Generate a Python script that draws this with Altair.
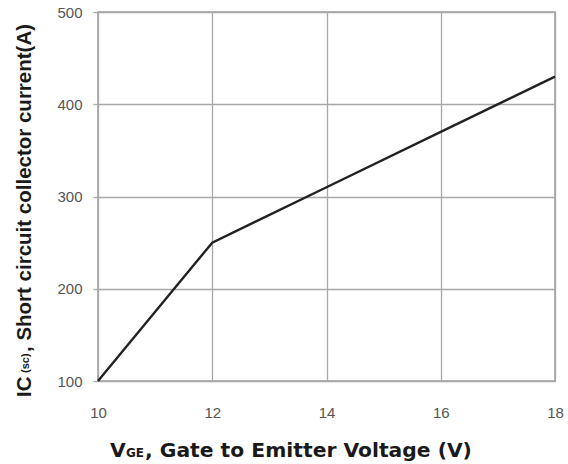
import altair as alt
import pandas as pd

# Gate-emitter voltage (V) and short-circuit collector current (A)
vge = [10, 12, 14, 16, 18]
ic_sc = [100, 250, 310, 370, 430]

x_ticks = [10, 12, 14, 16, 18]
y_ticks = [100, 200, 300, 400, 500]

df = pd.DataFrame({"vge": vge, "ic": ic_sc})
one = pd.DataFrame({"k": [0]})

W, H = 457, 369
TICK_FONT = "Liberation Sans, Arial, sans-serif"
X_TITLE_FONT = "DejaVu Sans, Verdana, sans-serif"
Y_TITLE_FONT = "Liberation Sans, Arial, sans-serif"

line = alt.Chart(df).mark_line(color="#222222", strokeWidth=2.4).encode(
    x=alt.X("vge:Q",
            scale=alt.Scale(domain=[10, 18], nice=False, zero=False),
            axis=alt.Axis(values=x_ticks, title=None, labelPadding=24, tickSize=0,
                          labelFlush=False, domain=False, format="d")),
    y=alt.Y("ic:Q",
            scale=alt.Scale(domain=[100, 500], nice=False, zero=False),
            axis=alt.Axis(values=y_ticks, title=None, labelPadding=11, tickSize=5,
                          labelFlush=False, domain=False, format="d")),
)


def label(text, x, y, size, font, angle=0):
    return alt.Chart(one).mark_text(
        text=text, align="left", baseline="alphabetic", angle=angle,
        font=font, fontSize=size, fontWeight="bold", color="#1a1a1a",
    ).encode(x=alt.value(x), y=alt.value(y))


# x-axis title with subscript "GE"
x_title = [
    label("V", 12, 445, 20.3, X_TITLE_FONT),
    label("GE", 28, 445, 12, X_TITLE_FONT),
    label(", Gate to Emitter Voltage (V)", 47, 445, 20.3, X_TITLE_FONT),
]

# y-axis title (rotated) with subscript "(sc)"
y_title = [
    label("IC", -67, 385, 20.5, Y_TITLE_FONT, angle=270),
    label("(sc)", -69, 361, 11, Y_TITLE_FONT, angle=270),
    label(", Short circuit collector current(A)", -67, 340, 20.5, Y_TITLE_FONT, angle=270),
]

chart = alt.layer(line, *x_title, *y_title).properties(
    width=W, height=H,
    autosize=alt.AutoSizeParams(type="none"),
    padding={"left": 98, "top": 12, "right": 13, "bottom": 83},
).configure_view(
    stroke="#9a9a9a", strokeWidth=1.5,
).configure_axis(
    grid=True, gridColor="#a8a8a8", gridWidth=1.3,
    tickColor="#a8a8a8", tickWidth=1.3,
    labelFont=TICK_FONT, labelFontSize=15, labelColor="#555555",
)

chart.save("out.html", embed_options={"renderer": "svg", "actions": False})
